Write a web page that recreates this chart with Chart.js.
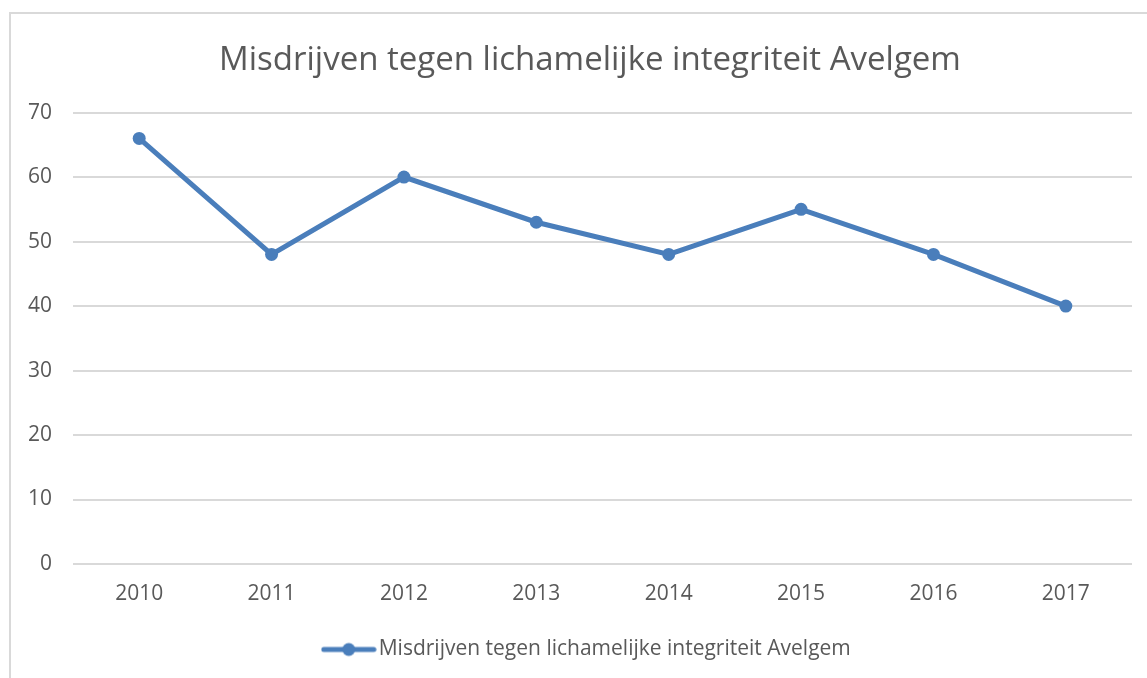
<!DOCTYPE html>
<html>
<head>
<meta charset="utf-8">
<script src="https://cdn.jsdelivr.net/npm/chart.js@4/dist/chart.umd.min.js"></script>
<style>
  html, body { margin: 0; padding: 0; background: #fff; overflow: hidden; }
  #frame { position: absolute; left: 9px; top: 12px; width: 1200px; height: 700px; border: 2px solid #d9d9d9; box-sizing: border-box; }
  #wrap { position: absolute; left: 0; top: 0; width: 1170px; height: 678px; }
</style>
</head>
<body>
<div id="frame"></div>
<div id="wrap"><canvas id="misdrijvenChart"></canvas></div>
<script>
var jaren = ["2010", "2011", "2012", "2013", "2014", "2015", "2016", "2017"];
var misdrijven = [66, 48, 60, 53, 48, 55, 48, 40];
var reeksNaam = "Misdrijven tegen lichamelijke integriteit Avelgem";
var titel = "Misdrijven tegen lichamelijke integriteit Avelgem";

var lijnKleur = "#4A7EBB";
var tekstKleur = "#595959";
var rasterKleur = "#d9d9d9";
var lettertype = "'Open Sans', 'Liberation Sans', sans-serif";

// legend marker: short line with a dot in the middle
function legendMarker() {
    var c = document.createElement("canvas");
    c.width = 56;
    c.height = 16;
    var g = c.getContext("2d");
    g.strokeStyle = lijnKleur;
    g.lineWidth = 5;
    g.lineCap = "round";
    g.beginPath();
    g.moveTo(3, 8);
    g.lineTo(53, 8);
    g.stroke();
    g.fillStyle = lijnKleur;
    g.beginPath();
    g.arc(28, 8, 6.5, 0, Math.PI * 2);
    g.fill();
    return c;
}
var marker = legendMarker();

var chartConfig = {
    type: 'line',
    data: {
        labels: jaren,
        datasets: [{
            label: reeksNaam,
            data: misdrijven,
            borderColor: lijnKleur,
            backgroundColor: lijnKleur,
            borderWidth: 5,
            pointRadius: 6.5,
            pointHoverRadius: 6.5,
            pointBackgroundColor: lijnKleur,
            pointBorderWidth: 0,
            tension: 0,
            fill: false
        }]
    },
    options: {
        responsive: false,
        animation: false,
        devicePixelRatio: 1,
        layout: { padding: { left: 25, right: 15, top: 0, bottom: 8 } },
        plugins: {
            title: {
                display: true,
                text: titel,
                color: tekstKleur,
                font: { family: lettertype, size: 33, weight: 'normal' },
                padding: { top: 41, bottom: 32 }
            },
            legend: {
                display: true,
                position: 'bottom',
                labels: {
                    color: tekstKleur,
                    font: { family: lettertype, size: 21 },
                    usePointStyle: true,
                    pointStyleWidth: 39,
                    padding: 10,
                    generateLabels: function (chart) {
                        return [{
                            text: reeksNaam,
                            pointStyle: marker,
                            fontColor: tekstKleur,
                            strokeStyle: lijnKleur,
                            fillStyle: lijnKleur,
                            lineWidth: 0,
                            datasetIndex: 0
                        }];
                    }
                }
            },
            tooltip: { enabled: false }
        },
        scales: {
            x: {
                offset: true,
                grid: { display: false, drawTicks: false },
                border: { display: false },
                ticks: { color: tekstKleur, font: { family: lettertype, size: 21 }, padding: 17, maxRotation: 0 },
                afterFit: function (scale) { scale.height = 65; }
            },
            y: {
                min: 0,
                max: 70,
                ticks: { stepSize: 10, color: tekstKleur, font: { family: lettertype, size: 21 }, padding: 21 },
                grid: { color: rasterKleur, lineWidth: 2, drawTicks: false },
                border: { display: false },
                afterFit: function (scale) { scale.width = 48; }
            },
            // empty strip on the right, keeps the plot edge while title and legend centre on the full width
            rechts: {
                axis: 'y',
                position: 'right',
                ticks: { display: false },
                grid: { display: false, drawTicks: false },
                border: { display: false },
                afterFit: function (scale) { scale.width = 23; }
            }
        }
    }
};

var canvas = document.getElementById("misdrijvenChart");
canvas.width = 1170;
canvas.height = 678;
var misdrijvenChart = new Chart(canvas.getContext('2d'), chartConfig);
</script>
</body>
</html>
